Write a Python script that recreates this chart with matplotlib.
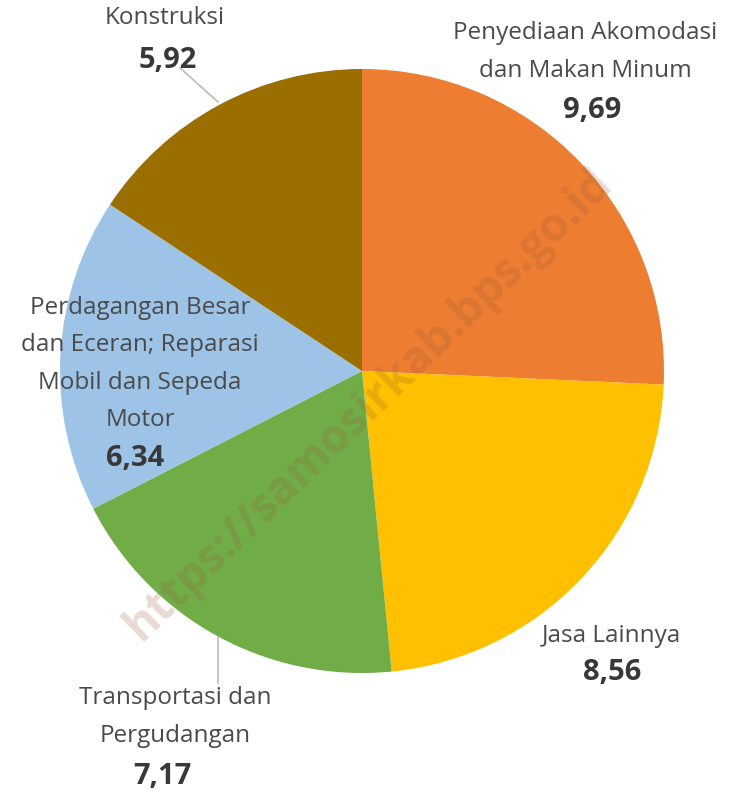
import matplotlib
matplotlib.use("Agg")
import matplotlib.pyplot as plt

# data
kategori = [
    "Penyediaan Akomodasi\ndan Makan Minum",
    "Jasa Lainnya",
    "Transportasi dan\nPergudangan",
    "Perdagangan Besar\ndan Eceran; Reparasi\nMobil dan Sepeda\nMotor",
    "Konstruksi",
]
nilai = [9.69, 8.56, 7.17, 6.34, 5.92]
warna = ["#ED7D31", "#FFC000", "#70AD47", "#9DC3E6", "#9A6F00"]

# label positions in pixels (x of name, y of the name block centre, x of value, y of value)
posisi_label = [(585, 52, 592, 111), (612, 636, 612, 673), (175, 717, 162, 777),
                (140, 364, 135, 458), (165, 18, 168, 60)]

W, H = 737, 796
fig = plt.figure(figsize=(W / 100, H / 100), dpi=100)
ax = fig.add_axes([0, 0, 1, 1])

cx, cy, r = 362, H - 371, 302
ax.pie(nilai, colors=warna, startangle=90, counterclock=False,
       center=(cx, cy), radius=r, frame=True,
       wedgeprops=dict(linewidth=0))
ax.set_xlim(0, W)
ax.set_ylim(0, H)
ax.set_aspect("equal")
ax.axis("off")

# leader lines
ax.plot([180, 218], [H - 68, H - 102], color="#BBBBBB", lw=1.2, zorder=1)
ax.plot([218, 218], [H - 637, H - 683], color="#BBBBBB", lw=1.2, zorder=5)

font = "Open Sans"
for nama, v, (xn, yn, xv, yv) in zip(kategori, nilai, posisi_label):
    ax.text(xn, H - yn, nama, ha="center", va="center", fontsize=17.5,
            family=font, color="#4A4A4A", linespacing=1.75, zorder=6)
    ax.text(xv, H - yv, f"{v:.2f}".replace(".", ","), ha="center", va="center",
            fontsize=21, family=font, fontweight="bold", color="#383838", zorder=6)

# watermark
ax.text(368, H - 405, "https://samosirkab.bps.go.id", rotation=44, ha="center", va="center",
        fontsize=33, family=font, fontweight="bold", color="#9A5A3A", alpha=0.22, zorder=4)

fig.savefig("out.png", dpi=100)
